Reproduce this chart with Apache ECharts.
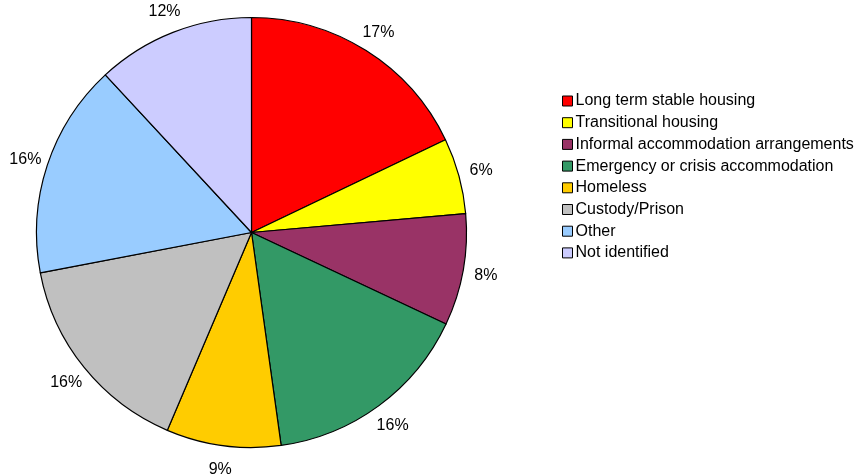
<!DOCTYPE html>
<html><head><meta charset="utf-8">
<script src="https://cdn.jsdelivr.net/npm/echarts@6/dist/echarts.min.js"></script>
<style>html,body{margin:0;padding:0;background:#fff}#c{width:856px;height:475px}</style>
</head><body><div id="c"></div>
<script>
var categories = ['Long term stable housing','Transitional housing','Informal accommodation arrangements','Emergency or crisis accommodation','Homeless','Custody/Prison','Other','Not identified'];
var values = [17.9, 5.7, 8.4, 15.8, 8.6, 15.6, 16.1, 11.9];
var pctLabels = ['17%','6%','8%','16%','9%','16%','16%','12%'];
var colors = ['#FF0000','#FFFF00','#993366','#339966','#FFCC00','#C0C0C0','#99CCFF','#CCCCFF'];

var font = 'Liberation Sans, Arial, sans-serif';
var chart = echarts.init(document.getElementById('c'), null, {renderer:'canvas'});
var mainData = categories.map(function(n,i){return {name:n, value:values[i], itemStyle:{color:colors[i]}};});
var ghostData = categories.map(function(n,i){return {name:n, value:values[i]};});
chart.setOption({
  animation:false,
  legend:{
    orient:'vertical', left:557, top:88,
    data:categories,
    icon:'rect', itemWidth:10, itemHeight:10, itemGap:5.7,
    itemStyle:{borderColor:'#000', borderWidth:1},
    textStyle:{fontFamily:font, fontSize:16, color:'#000', lineHeight:16, padding:[0,0,0,-2]},
    selectedMode:false
  },
  series:[{
    type:'pie', center:[251.5,232.5], radius:[0,215], startAngle:90, clockwise:true,
    data:mainData, label:{show:false}, labelLine:{show:false},
    itemStyle:{borderColor:'#000', borderWidth:1.2},
    emphasis:{disabled:true}, silent:true
  },{
    type:'pie', center:[251.5,233.5], radius:[215,255], startAngle:90, clockwise:true,
    data:ghostData,
    itemStyle:{color:'rgba(0,0,0,0)', borderWidth:0},
    label:{show:true, position:'inside', formatter:function(p){return pctLabels[p.dataIndex];}, fontFamily:font, fontSize:16, color:'#000'},
    labelLine:{show:false},
    emphasis:{disabled:true}, silent:true
  }]
});
</script></body></html>
